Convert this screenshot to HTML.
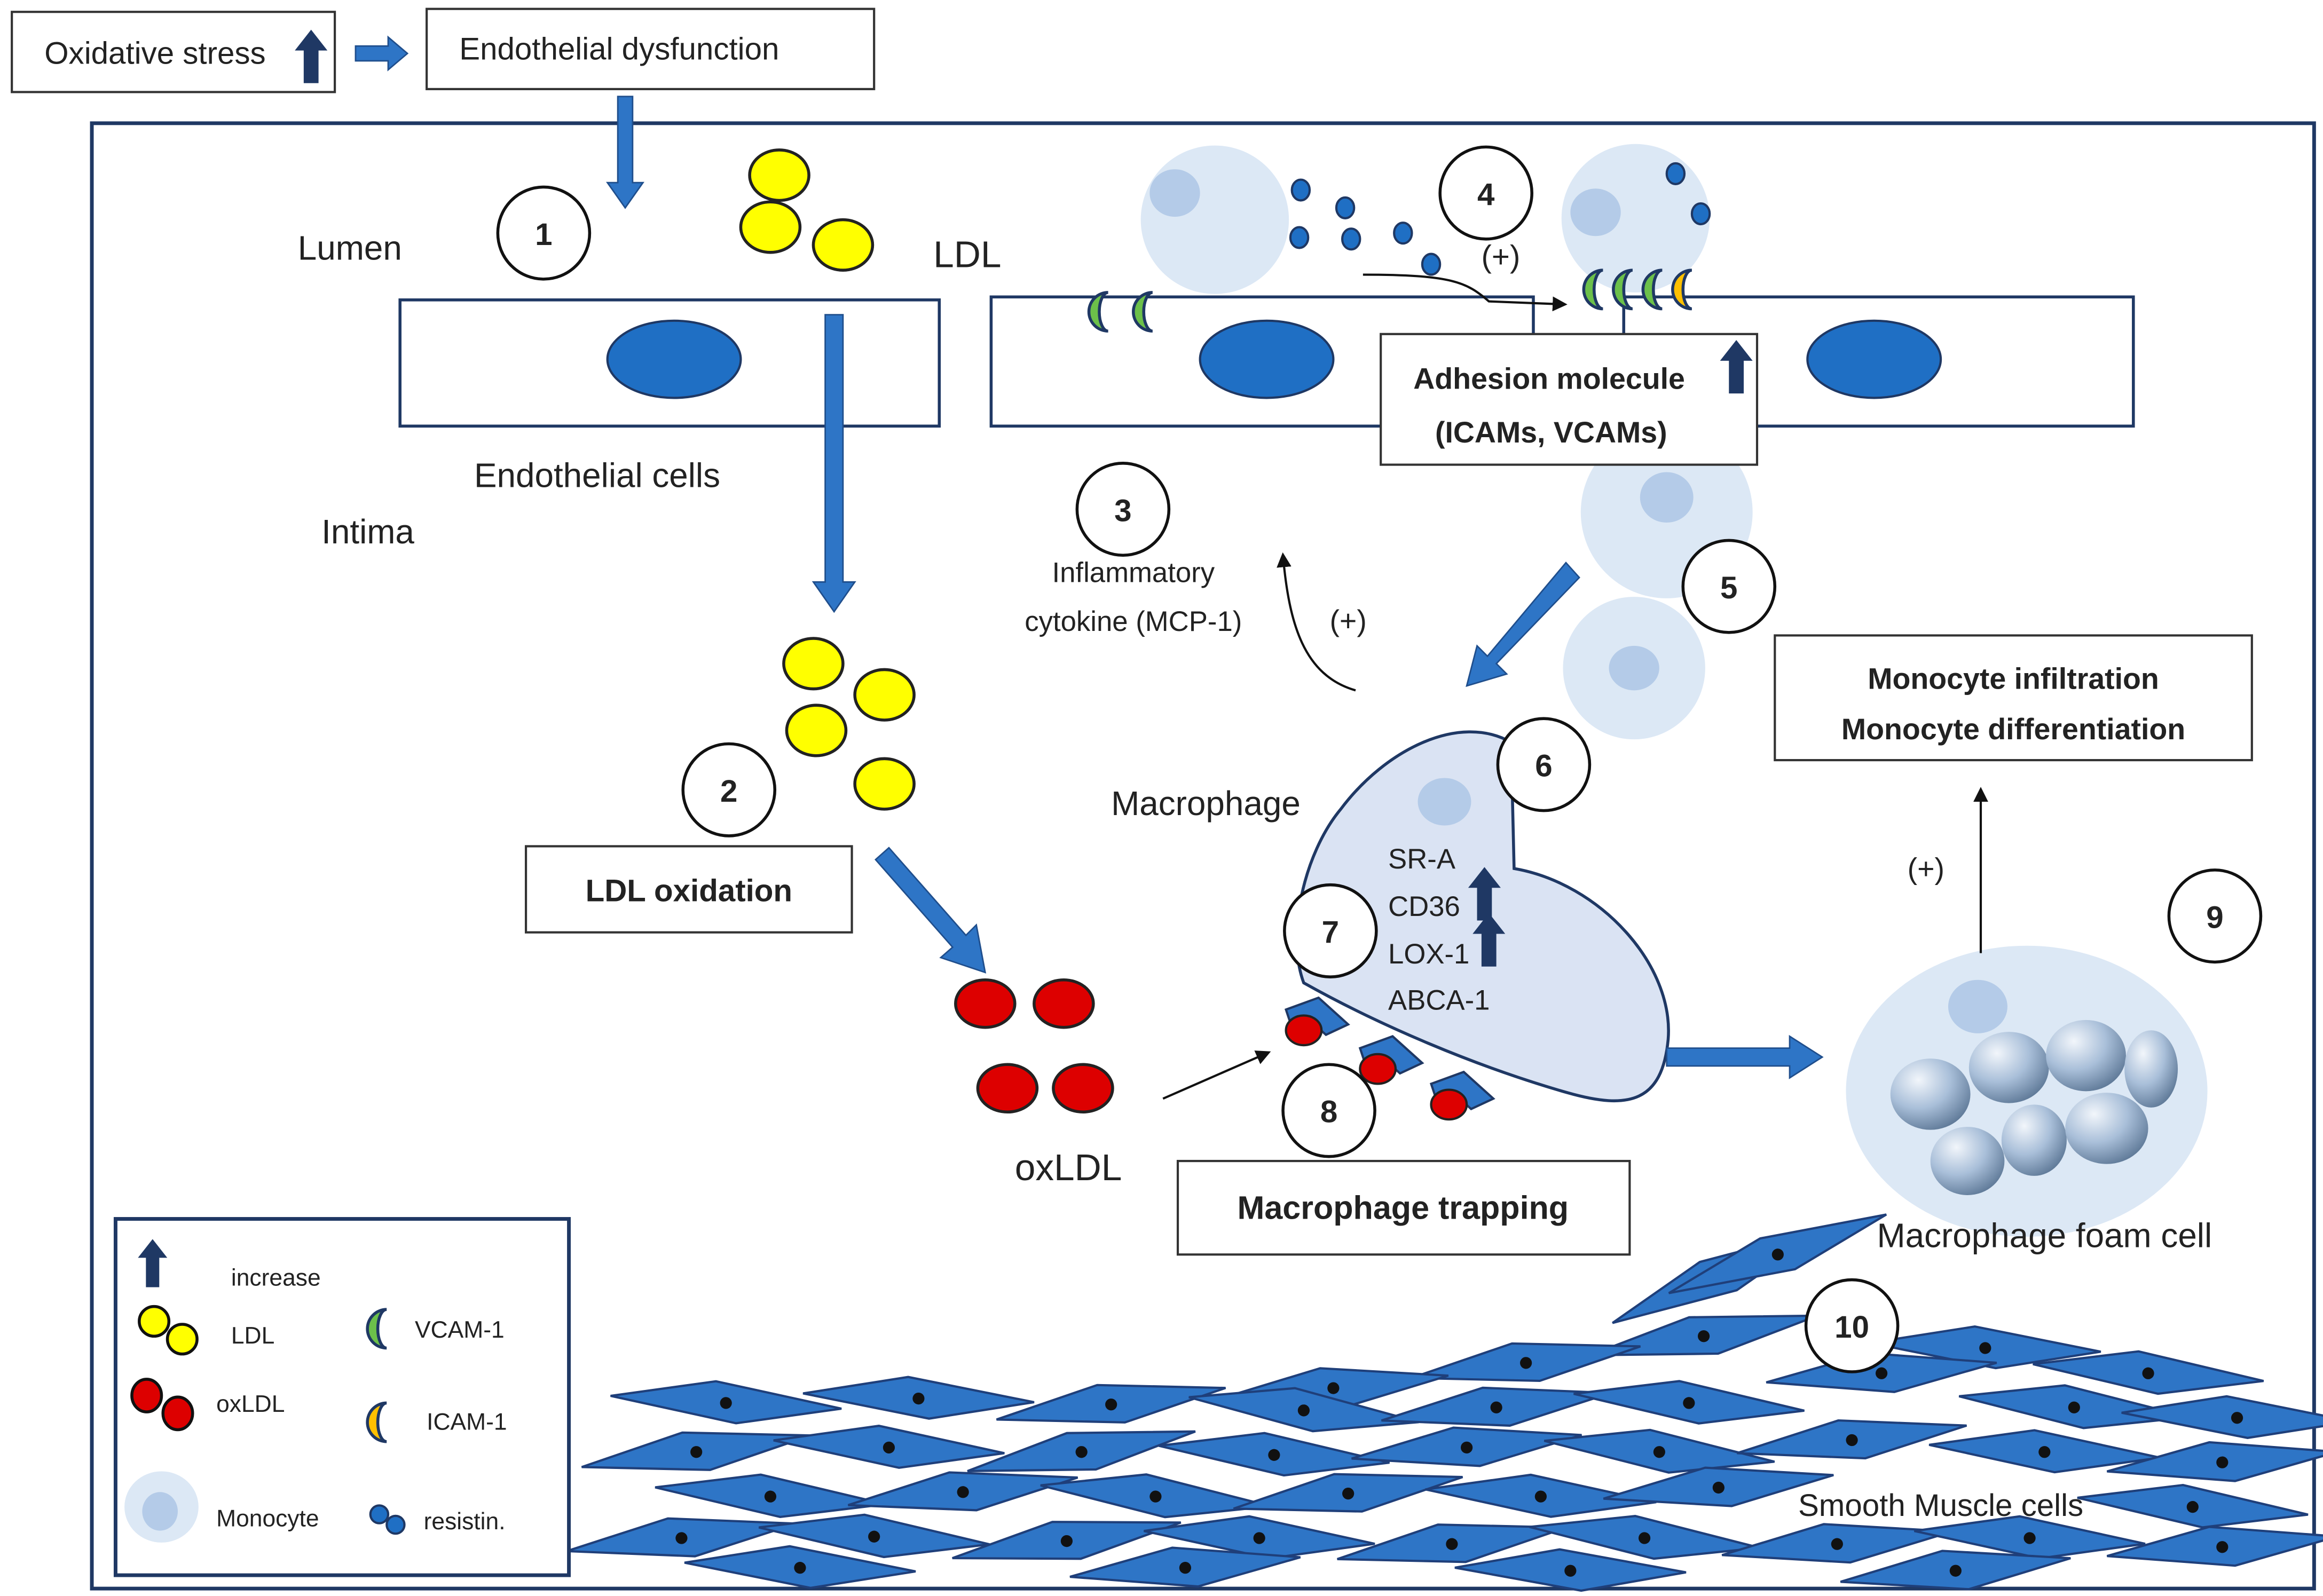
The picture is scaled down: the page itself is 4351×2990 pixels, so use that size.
<!DOCTYPE html>
<html><head><meta charset="utf-8"><style>
html,body{margin:0;padding:0;background:#fff}
svg{display:block}
text{font-family:"Liberation Sans","DejaVu Sans",sans-serif;fill:#222}
</style></head><body>
<svg width="4351" height="2990" viewBox="0 0 1568 1075" preserveAspectRatio="none" xmlns="http://www.w3.org/2000/svg">
<defs>
<marker id="ah" markerWidth="10" markerHeight="10" refX="8" refY="5" orient="auto" markerUnits="userSpaceOnUse"><path d="M0,0 L10,5 L0,10 Z" fill="#111"/></marker>
<g id="smc"><polygon points="-78,2 -8,-14 78,-3 8,13" fill="#2e75c6" stroke="#1f3f7a" stroke-width="1.5"/><circle cx="0" cy="0" r="4" fill="#111"/></g>
<g id="upar"><path d="M-5,0 L-5,-22 L-11,-22 L0,-36 L11,-22 L5,-22 L5,0 Z" fill="#1f3864"/></g>
<path id="cres" d="M0,-13 A13,13 0 0 0 0,13 A6,13 0 0 1 0,-13 Z" stroke="#1f3864" stroke-width="2"/>
<radialGradient id="sph" cx="0.35" cy="0.3" r="0.8"><stop offset="0" stop-color="#f2f6fb"/><stop offset="0.5" stop-color="#a9bfd9"/><stop offset="1" stop-color="#55708f"/></radialGradient>
</defs>

<!-- top boxes -->
<rect x="8" y="8" width="218" height="54" fill="#fff" stroke="#333" stroke-width="1.5"/>
<text x="30" y="43" font-size="21">Oxidative stress</text>
<use href="#upar" transform="translate(210,56)"/>
<path d="M240,31 L262,31 L262,25 L275,36 L262,47 L262,41 L240,41 Z" fill="#2e75c6" stroke="#1f4e8c" stroke-width="1"/>
<rect x="288" y="6" width="302" height="54" fill="#fff" stroke="#333" stroke-width="1.5"/>
<text x="310" y="40" font-size="21">Endothelial dysfunction</text>

<rect x="62" y="83" width="1500" height="987" fill="none" stroke="#1f3864" stroke-width="2.5"/>

<path d="M417,65 L427,65 L427,123 L434,123 L422,140 L410,123 L417,123 Z" fill="#2e75c6" stroke="#1f4e8c"/>

<g fill="#ffff00" stroke="#222" stroke-width="2">
<ellipse cx="526" cy="118" rx="20" ry="17"/><ellipse cx="520" cy="153" rx="20" ry="17"/><ellipse cx="569" cy="165" rx="20" ry="17"/>
<ellipse cx="549" cy="447" rx="20" ry="17"/><ellipse cx="597" cy="468" rx="20" ry="17"/><ellipse cx="551" cy="492" rx="20" ry="17"/><ellipse cx="597" cy="528" rx="20" ry="17"/>
</g>

<g fill="#fff" stroke="#1f3864" stroke-width="2">
<rect x="270" y="202" width="364" height="85"/><rect x="669" y="200" width="366" height="87"/><rect x="1096" y="200" width="344" height="87"/>
</g>
<g fill="#1f6fc4" stroke="#1f3864" stroke-width="1.5">
<ellipse cx="455" cy="242" rx="45" ry="26"/><ellipse cx="855" cy="242" rx="45" ry="26"/><ellipse cx="1265" cy="242" rx="45" ry="26"/>
</g>
<text x="201" y="175" font-size="23">Lumen</text>
<text x="630" y="180" font-size="25">LDL</text>
<text x="320" y="328" font-size="23">Endothelial cells</text>
<text x="217" y="366" font-size="23">Intima</text>

<path d="M557,212 L569,212 L569,392 L577,392 L563,412 L549,392 L557,392 Z" fill="#2e75c6" stroke="#1f4e8c"/>

<rect x="355" y="570" width="220" height="58" fill="#fff" stroke="#333" stroke-width="1.5"/>
<text x="465" y="607" font-size="21" font-weight="bold" text-anchor="middle">LDL oxidation</text>
<path d="M591,579 L600,571 L652,630 L659,623 L665,655 L635,645 L643,638 Z" fill="#2e75c6" stroke="#1f4e8c"/>

<g fill="#dd0000" stroke="#222" stroke-width="2">
<ellipse cx="665" cy="676" rx="20" ry="16"/><ellipse cx="718" cy="676" rx="20" ry="16"/><ellipse cx="680" cy="733" rx="20" ry="16"/><ellipse cx="731" cy="733" rx="20" ry="16"/>
</g>
<text x="685" y="795" font-size="25">oxLDL</text>
<line x1="785" y1="740" x2="856" y2="709" stroke="#111" stroke-width="1.5" marker-end="url(#ah)"/>

<!-- monocytes -->
<g fill="#dce8f5"><circle cx="820" cy="148" r="50"/><circle cx="1104" cy="147" r="50"/><circle cx="1125" cy="345" r="58"/><circle cx="1103" cy="450" r="48"/></g>
<g fill="#b4cbe8"><ellipse cx="793" cy="130" rx="17" ry="16"/><ellipse cx="1077" cy="143" rx="17" ry="16"/><ellipse cx="1125" cy="335" rx="18" ry="17"/><ellipse cx="1103" cy="450" rx="17" ry="15"/></g>
<g fill="#1f6fc4" stroke="#1f3864" stroke-width="1.5">
<ellipse cx="878" cy="128" rx="6" ry="7"/><ellipse cx="908" cy="140" rx="6" ry="7"/><ellipse cx="877" cy="160" rx="6" ry="7"/><ellipse cx="912" cy="161" rx="6" ry="7"/>
<ellipse cx="947" cy="157" rx="6" ry="7"/><ellipse cx="966" cy="178" rx="6" ry="7"/><ellipse cx="1131" cy="117" rx="6" ry="7"/><ellipse cx="1148" cy="144" rx="6" ry="7"/>
</g>
<path d="M920,185 C980,185 990,190 1005,203 L1056,205" fill="none" stroke="#111" stroke-width="1.5" marker-end="url(#ah)"/>
<text x="1013" y="180" font-size="21" text-anchor="middle">(+)</text>

<!-- crescents -->
<use href="#cres" transform="translate(748,210)" fill="#6cc04a"/>
<use href="#cres" transform="translate(778,210)" fill="#6cc04a"/>
<use href="#cres" transform="translate(1082,195)" fill="#6cc04a"/>
<use href="#cres" transform="translate(1102,195)" fill="#6cc04a"/>
<use href="#cres" transform="translate(1122,195)" fill="#6cc04a"/>
<use href="#cres" transform="translate(1142,195)" fill="#ffc000"/>

<rect x="932" y="225" width="254" height="88" fill="#fff" stroke="#333" stroke-width="1.5"/>
<text x="954" y="262" font-size="20" font-weight="bold">Adhesion molecule</text>
<use href="#upar" transform="translate(1172,265)"/>
<text x="1047" y="298" font-size="20" font-weight="bold" text-anchor="middle">(ICAMs, VCAMs)</text>

<text x="765" y="392" font-size="19" text-anchor="middle">Inflammatory</text>
<text x="765" y="425" font-size="19" text-anchor="middle">cytokine (MCP-1)</text>
<text x="910" y="425" font-size="20" text-anchor="middle">(+)</text>
<path d="M915,465 C880,455 870,420 866,374" fill="none" stroke="#111" stroke-width="1.5" marker-end="url(#ah)"/>

<path d="M1057,379 L1066,389 L1010,447 L1017,454 L990,462 L997,435 L1004,442 Z" fill="#2e75c6" stroke="#1f4e8c"/>

<!-- macrophage -->
<path d="M905,545 C935,505 985,480 1020,500 L1022,585 C1080,595 1130,650 1126,700 C1122,742 1100,748 1058,736 C995,718 930,690 880,662 C868,630 880,575 905,545 Z" fill="#dae3f3" stroke="#1f3864" stroke-width="2"/>
<ellipse cx="975" cy="540" rx="18" ry="16" fill="#b4cbe8"/>
<text x="750" y="549" font-size="23">Macrophage</text>
<g font-size="19"><text x="937" y="585">SR-A</text><text x="937" y="617">CD36</text><text x="937" y="649">LOX-1</text><text x="937" y="680">ABCA-1</text></g>
<use href="#upar" transform="translate(1002,620)"/><use href="#upar" transform="translate(1005,651)"/>

<g>
<path d="M868,680 L890,672 L910,690 L895,697 L884,687 L872,692 Z" fill="#2e75c6" stroke="#1f3864" stroke-width="1.5"/>
<ellipse cx="880" cy="694" rx="12" ry="10" fill="#dd0000" stroke="#222" stroke-width="1.5"/>
<path d="M918,706 L940,698 L960,716 L945,723 L934,713 L922,718 Z" fill="#2e75c6" stroke="#1f3864" stroke-width="1.5"/>
<ellipse cx="930" cy="720" rx="12" ry="10" fill="#dd0000" stroke="#222" stroke-width="1.5"/>
<path d="M966,730 L988,722 L1008,740 L993,747 L982,737 L970,742 Z" fill="#2e75c6" stroke="#1f3864" stroke-width="1.5"/>
<ellipse cx="978" cy="744" rx="12" ry="10" fill="#dd0000" stroke="#222" stroke-width="1.5"/>
</g>

<rect x="795" y="782" width="305" height="63" fill="#fff" stroke="#333" stroke-width="1.5"/>
<text x="947" y="821" font-size="22" font-weight="bold" text-anchor="middle">Macrophage trapping</text>

<path d="M1125,706 L1208,706 L1208,698 L1230,712 L1208,726 L1208,718 L1125,718 Z" fill="#2e75c6" stroke="#1f4e8c"/>

<ellipse cx="1368" cy="735" rx="122" ry="98" fill="#dce8f5"/>
<ellipse cx="1335" cy="678" rx="20" ry="18" fill="#b4cbe8"/>
<g fill="url(#sph)">
<ellipse cx="1303" cy="737" rx="27" ry="24"/><ellipse cx="1356" cy="719" rx="27" ry="24"/><ellipse cx="1408" cy="711" rx="27" ry="24"/>
<ellipse cx="1452" cy="720" rx="18" ry="26"/><ellipse cx="1373" cy="768" rx="22" ry="24"/><ellipse cx="1422" cy="760" rx="28" ry="24"/><ellipse cx="1328" cy="782" rx="25" ry="23"/>
</g>
<text x="1380" y="840" font-size="23" text-anchor="middle">Macrophage foam cell</text>

<line x1="1337" y1="642" x2="1337" y2="532" stroke="#111" stroke-width="1.5" marker-end="url(#ah)"/>
<text x="1300" y="592" font-size="20" text-anchor="middle">(+)</text>
<rect x="1198" y="428" width="322" height="84" fill="#fff" stroke="#333" stroke-width="1.5"/>
<text x="1359" y="464" font-size="20" font-weight="bold" text-anchor="middle">Monocyte infiltration</text>
<text x="1359" y="498" font-size="20" font-weight="bold" text-anchor="middle">Monocyte differentiation</text>

<!-- smooth muscle cells -->
<g>
<use href="#smc" transform="translate(1160,860) rotate(-22)"/><use href="#smc" transform="translate(1200,845) rotate(-18)"/>
<use href="#smc" transform="translate(1150,900) rotate(-8)"/><use href="#smc" transform="translate(1030,918) rotate(-6)"/>
<use href="#smc" transform="translate(900,935) rotate(-4)"/><use href="#smc" transform="translate(1340,908) rotate(4)"/>
<use href="#smc" transform="translate(1450,925) rotate(6)"/><use href="#smc" transform="translate(1270,925) rotate(-3)"/>
<use href="#smc" transform="translate(490,945) rotate(5)"/><use href="#smc" transform="translate(620,942) rotate(4)"/><use href="#smc" transform="translate(750,946) rotate(-6)"/>
<use href="#smc" transform="translate(880,950) rotate(8)"/><use href="#smc" transform="translate(1010,948) rotate(-5)"/><use href="#smc" transform="translate(1140,945) rotate(6)"/>
<use href="#smc" transform="translate(1400,948) rotate(7)"/><use href="#smc" transform="translate(1510,955) rotate(4)"/>
<use href="#smc" transform="translate(470,978) rotate(-6)"/><use href="#smc" transform="translate(600,975) rotate(5)"/><use href="#smc" transform="translate(730,978) rotate(-8)"/>
<use href="#smc" transform="translate(860,980) rotate(6)"/><use href="#smc" transform="translate(990,975) rotate(-4)"/><use href="#smc" transform="translate(1120,978) rotate(7)"/>
<use href="#smc" transform="translate(1250,970) rotate(-5)"/><use href="#smc" transform="translate(1380,978) rotate(5)"/><use href="#smc" transform="translate(1500,985) rotate(-3)"/>
<use href="#smc" transform="translate(520,1008) rotate(6)"/><use href="#smc" transform="translate(650,1005) rotate(-5)"/><use href="#smc" transform="translate(780,1008) rotate(7)"/>
<use href="#smc" transform="translate(910,1006) rotate(-6)"/><use href="#smc" transform="translate(1040,1008) rotate(5)"/><use href="#smc" transform="translate(1160,1002) rotate(-4)"/>
<use href="#smc" transform="translate(1480,1015) rotate(6)"/>
<use href="#smc" transform="translate(460,1036) rotate(-5)"/><use href="#smc" transform="translate(590,1035) rotate(6)"/><use href="#smc" transform="translate(720,1038) rotate(-7)"/>
<use href="#smc" transform="translate(850,1036) rotate(5)"/><use href="#smc" transform="translate(980,1040) rotate(-6)"/><use href="#smc" transform="translate(1110,1036) rotate(7)"/>
<use href="#smc" transform="translate(1240,1040) rotate(-4)"/><use href="#smc" transform="translate(1370,1036) rotate(5)"/><use href="#smc" transform="translate(1500,1042) rotate(-3)"/>
<use href="#smc" transform="translate(540,1056) rotate(4)"/><use href="#smc" transform="translate(800,1056) rotate(-3)"/><use href="#smc" transform="translate(1060,1058) rotate(3)"/><use href="#smc" transform="translate(1320,1058) rotate(-4)"/>
</g>
<text x="1310" y="1021" font-size="21" text-anchor="middle">Smooth Muscle cells</text>

<!-- number circles on top -->
<g fill="#fff" stroke="#111" stroke-width="2">
<circle cx="367" cy="157" r="31"/><circle cx="492" cy="532" r="31"/><circle cx="758" cy="343" r="31"/>
<circle cx="1003" cy="130" r="31"/><circle cx="1167" cy="395" r="31"/><circle cx="1042" cy="515" r="31"/>
<circle cx="898" cy="627" r="31"/><circle cx="897" cy="748" r="31"/><circle cx="1495" cy="617" r="31"/><circle cx="1250" cy="893" r="31"/>
</g>
<g font-size="21" font-weight="bold" text-anchor="middle">
<text x="367" y="165">1</text><text x="492" y="540">2</text><text x="758" y="351">3</text><text x="1003" y="138">4</text>
<text x="1167" y="403">5</text><text x="1042" y="523">6</text><text x="898" y="635">7</text><text x="897" y="756">8</text>
<text x="1495" y="625">9</text><text x="1250" y="901">10</text>
</g>

<!-- legend -->
<rect x="78" y="821" width="306" height="240" fill="#fff" stroke="#1f3864" stroke-width="2.5"/>
<use href="#upar" transform="translate(103,867) scale(0.9)"/>
<text x="156" y="866" font-size="16">increase</text>
<circle cx="104" cy="890" r="10" fill="#ffff00" stroke="#111" stroke-width="2"/><circle cx="123" cy="902" r="10" fill="#ffff00" stroke="#111" stroke-width="2"/>
<text x="156" y="905" font-size="16">LDL</text>
<use href="#cres" transform="translate(261,895)" fill="#6cc04a"/>
<text x="280" y="901" font-size="16">VCAM-1</text>
<ellipse cx="99" cy="940" rx="10" ry="11" fill="#dd0000" stroke="#111" stroke-width="2"/><ellipse cx="120" cy="952" rx="10" ry="11" fill="#dd0000" stroke="#111" stroke-width="2"/>
<text x="146" y="951" font-size="16">oxLDL</text>
<use href="#cres" transform="translate(261,958)" fill="#ffc000"/>
<text x="288" y="963" font-size="16">ICAM-1</text>
<ellipse cx="109" cy="1015" rx="25" ry="24" fill="#dce8f5"/><ellipse cx="108" cy="1018" rx="12" ry="13" fill="#b4cbe8"/>
<text x="146" y="1028" font-size="16">Monocyte</text>
<circle cx="256" cy="1020" r="6" fill="#1f6fc4" stroke="#1f3864" stroke-width="1.5"/><circle cx="267" cy="1027" r="6" fill="#1f6fc4" stroke="#1f3864" stroke-width="1.5"/>
<text x="286" y="1030" font-size="16">resistin.</text>
</svg>
</body></html>
